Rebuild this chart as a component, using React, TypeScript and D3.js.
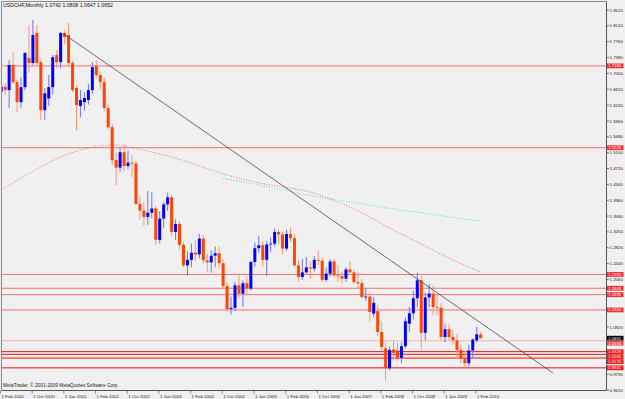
import * as d3 from 'd3';

const W = 625;
const H = 399;
const plot = { left: 1.5, top: 1.5, right: 606.5, bottom: 390.5 };

const title = 'USDCHF,Monthly  1.0742 1.0808 1.0647 1.0652';
const copyright = 'MetaTrader, \u00a9 2001-2009 MetaQuotes Software Corp.';

// monthly bars [open, high, low, close], first bar = Feb 2000
const y2000 = [
  [1.656, 1.701, 1.593, 1.668], [1.668, 1.677, 1.648, 1.66], [1.66, 1.732, 1.617, 1.72],
  [1.72, 1.751, 1.675, 1.679], [1.679, 1.685, 1.607, 1.631], [1.631, 1.691, 1.617, 1.667],
  [1.667, 1.751, 1.66, 1.749], [1.737, 1.815, 1.701, 1.725], [1.725, 1.828, 1.72, 1.792],
  [1.797, 1.816, 1.72, 1.725], [1.727, 1.735, 1.588, 1.612],
];
const y2001 = [
  [1.612, 1.665, 1.588, 1.652], [1.64, 1.696, 1.622, 1.667], [1.667, 1.744, 1.65, 1.739],
  [1.744, 1.756, 1.713, 1.727], [1.727, 1.799, 1.712, 1.797], [1.797, 1.803, 1.77, 1.787],
  [1.792, 1.821, 1.715, 1.725], [1.725, 1.73, 1.655, 1.66], [1.665, 1.672, 1.564, 1.624],
  [1.622, 1.66, 1.595, 1.636], [1.631, 1.655, 1.61, 1.641], [1.636, 1.675, 1.625, 1.66],
];
const y2002 = [
  [1.66, 1.727, 1.65, 1.715], [1.718, 1.732, 1.69, 1.696], [1.696, 1.705, 1.662, 1.679],
  [1.679, 1.69, 1.61, 1.617], [1.617, 1.625, 1.565, 1.571], [1.571, 1.58, 1.48, 1.492],
  [1.492, 1.512, 1.432, 1.474], [1.474, 1.522, 1.464, 1.511], [1.511, 1.53, 1.465, 1.478],
  [1.478, 1.515, 1.47, 1.486], [1.486, 1.504, 1.45, 1.484], [1.484, 1.49, 1.384, 1.387],
];
const y2003 = [
  [1.387, 1.405, 1.35, 1.371], [1.371, 1.392, 1.335, 1.356], [1.356, 1.418, 1.337, 1.366],
  [1.366, 1.415, 1.352, 1.376], [1.376, 1.382, 1.29, 1.301], [1.301, 1.37, 1.292, 1.352],
  [1.352, 1.392, 1.33, 1.386], [1.386, 1.414, 1.37, 1.403], [1.403, 1.41, 1.31, 1.32],
  [1.32, 1.35, 1.3, 1.339], [1.339, 1.346, 1.278, 1.289], [1.289, 1.296, 1.235, 1.24],
];
const y2004 = [
  [1.24, 1.274, 1.215, 1.253], [1.253, 1.292, 1.235, 1.27], [1.27, 1.3, 1.25, 1.266],
  [1.266, 1.315, 1.256, 1.304], [1.304, 1.312, 1.245, 1.252], [1.252, 1.268, 1.225, 1.247],
  [1.247, 1.276, 1.222, 1.263], [1.263, 1.285, 1.235, 1.269], [1.269, 1.285, 1.234, 1.245],
  [1.245, 1.255, 1.185, 1.19], [1.19, 1.2, 1.128, 1.135], [1.135, 1.165, 1.122, 1.138],
];
const y2005 = [
  [1.138, 1.2, 1.13, 1.192], [1.192, 1.22, 1.16, 1.172], [1.172, 1.204, 1.14, 1.197],
  [1.197, 1.215, 1.17, 1.184], [1.184, 1.25, 1.18, 1.248], [1.248, 1.295, 1.237, 1.281],
  [1.281, 1.31, 1.27, 1.288], [1.288, 1.297, 1.237, 1.253], [1.253, 1.298, 1.215, 1.29],
  [1.29, 1.307, 1.272, 1.292], [1.292, 1.328, 1.285, 1.32], [1.32, 1.325, 1.29, 1.314],
];
const y2006 = [
  [1.314, 1.32, 1.266, 1.28], [1.28, 1.325, 1.275, 1.315], [1.315, 1.33, 1.295, 1.305],
  [1.305, 1.315, 1.237, 1.24], [1.24, 1.252, 1.201, 1.212], [1.212, 1.255, 1.205, 1.223],
  [1.223, 1.26, 1.22, 1.235], [1.235, 1.25, 1.208, 1.232], [1.232, 1.262, 1.225, 1.253],
  [1.253, 1.275, 1.24, 1.251], [1.251, 1.258, 1.2, 1.205], [1.205, 1.235, 1.2, 1.22],
];
const y2007 = [
  [1.22, 1.254, 1.213, 1.249], [1.249, 1.255, 1.21, 1.216], [1.216, 1.24, 1.2, 1.214],
  [1.214, 1.225, 1.196, 1.208], [1.208, 1.235, 1.2, 1.23], [1.23, 1.25, 1.22, 1.223],
  [1.223, 1.23, 1.195, 1.2], [1.2, 1.225, 1.185, 1.197], [1.197, 1.208, 1.16, 1.164],
  [1.164, 1.185, 1.155, 1.165], [1.165, 1.175, 1.105, 1.128], [1.124, 1.164, 1.115, 1.15],
];
const y2008 = [
  [1.13, 1.145, 1.07, 1.08], [1.08, 1.105, 1.035, 1.044], [1.041, 1.055, 0.964, 0.993],
  [0.993, 1.045, 0.988, 1.037], [1.038, 1.06, 1.012, 1.03], [1.036, 1.055, 1.01, 1.018],
  [1.018, 1.055, 1.005, 1.046], [1.046, 1.115, 1.04, 1.106], [1.1, 1.14, 1.08, 1.125],
  [1.125, 1.178, 1.11, 1.161], [1.161, 1.222, 1.14, 1.204], [1.204, 1.215, 1.036, 1.078],
];
const y2009 = [
  [1.078, 1.175, 1.06, 1.163], [1.163, 1.195, 1.14, 1.172], [1.172, 1.192, 1.12, 1.14],
  [1.14, 1.172, 1.12, 1.138], [1.138, 1.15, 1.06, 1.068], [1.068, 1.1, 1.055, 1.087],
  [1.087, 1.098, 1.06, 1.068], [1.068, 1.085, 1.05, 1.06], [1.06, 1.075, 1.015, 1.037],
  [1.037, 1.05, 1.005, 1.017], [1.017, 1.035, 0.992, 1.005], [1.005, 1.05, 0.998, 1.036],
];
const y2010 = [
  [1.036, 1.065, 1.018, 1.062], [1.06, 1.093, 1.055, 1.0745], [1.0742, 1.0808, 1.0647, 1.0652],
];
const candles = [...y2000, ...y2001, ...y2002, ...y2003, ...y2004, ...y2005, ...y2006, ...y2007, ...y2008, ...y2009, ...y2010];

const priceTicks = [
  1.852, 1.814, 1.776, 1.738, 1.7, 1.662, 1.624, 1.586, 1.548, 1.51, 1.472, 1.434, 1.396,
  1.358, 1.32, 1.282, 1.244, 1.206, 1.168, 1.13, 1.092, 1.054, 1.016, 0.979, 0.941,
];
const dateLabels = [
  '1 Feb 2000', '1 Oct 2000', '1 Jun 2001', '1 Feb 2002', '1 Oct 2002', '1 Jun 2003',
  '1 Feb 2004', '1 Oct 2004', '1 Jun 2005', '1 Feb 2006', '1 Oct 2006', '1 Jun 2007',
  '1 Feb 2008', '1 Oct 2008', '1 Jun 2009', '1 Feb 2010',
];
const dateStep = 8; // bars between labels

// horizontal lines drawn by the trader
const softLevels = [1.718, 1.5218, 1.218, 1.1849, 1.1695, 1.133];
const strongLevels = [1.0329, 1.0265, 1.0176, 0.9941];
const pinkLevel = 1.059;
const lastPrice = 1.0652;

// [bar index, price]
const trendLine = [[15.65, 1.7955], [139.2, 0.982]];
const maRed = [
  [0, 1.4203], [5, 1.4491], [10, 1.4755], [15, 1.4995], [20, 1.5163], [25, 1.5259],
  [29, 1.5283], [32, 1.5235], [38, 1.5115], [43, 1.4995], [48, 1.4851], [53, 1.4683],
  [58, 1.4539], [63, 1.4419], [68, 1.4323], [73, 1.4251], [78, 1.4155], [83, 1.3988],
  [88, 1.3796], [93, 1.3556], [98, 1.3292], [103, 1.3052], [108, 1.2813], [113, 1.2573],
  [118, 1.2357], [121, 1.2237],
];
const maCyan = [
  [56, 1.4479], [60, 1.4419], [65, 1.4323], [70, 1.4227], [75, 1.4131], [80, 1.4036],
  [85, 1.3964], [90, 1.3892], [95, 1.3808], [100, 1.3736], [105, 1.3676], [110, 1.3604],
  [115, 1.3532], [121, 1.346],
];

const BULL = '#0000ff';
const BEAR = '#ff4500';
const font = "'Liberation Sans', Arial, sans-serif";
const labelFont = 4.2;
const labelGap = 5.0;

export default function App() {
  const x = d3.scaleLinear().domain([0, 121]).range([1.2, 480.7]);
  const y = d3.scaleLinear().domain([0.941, 1.852]).range([390, 10]);
  const path = d3
    .line<number[]>()
    .x((d) => x(d[0]))
    .y((d) => y(d[1]))
    .curve(d3.curveMonotoneX);
  const bodyW = 3;

  // price-axis flags for the levels; pushed apart a little so they do not overlap
  const flags = [
    ...softLevels.map((v) => ({ v, fill: '#f23030' })),
    { v: pinkLevel, fill: '#f04848' },
    ...strongLevels.map((v) => ({ v, fill: '#f01c1c' })),
    { v: lastPrice, fill: '#000' },
  ]
    .map((f) => ({ ...f, pos: y(f.v) }))
    .sort((a, b) => a.pos - b.pos);
  for (let k = 1; k < flags.length; k++) {
    if (flags[k].pos - flags[k - 1].pos < labelGap) flags[k].pos = flags[k - 1].pos + labelGap;
  }
  // grid labels that sit under a flag are hidden, as on the terminal
  const visibleTicks = priceTicks.filter((v) => flags.every((f) => Math.abs(f.pos - y(v)) > 4.6));

  return (
    <svg
      width={W}
      height={H}
      style={{ position: 'absolute', left: 0, top: 0 }}
      fontFamily={font}
    >
      <rect width={W} height={H} fill="#f0f0f0" />
      <defs>
        <clipPath id="plotClip">
          <rect x={plot.left} y={plot.top} width={plot.right - plot.left} height={plot.bottom - plot.top} />
        </clipPath>
      </defs>
      <g clipPath="url(#plotClip)">
        {softLevels.map((v) => (
          <line key={v} x1={plot.left} x2={plot.right} y1={y(v)} y2={y(v)} stroke="#f07070" strokeWidth={1} />
        ))}
        <line x1={plot.left} x2={plot.right} y1={y(pinkLevel)} y2={y(pinkLevel)} stroke="#f2b4b4" strokeWidth={1} />
        {strongLevels.map((v) => (
          <line key={v} x1={plot.left} x2={plot.right} y1={y(v)} y2={y(v)} stroke="#ee1010" strokeWidth={1} />
        ))}
        <path d={path(maRed) ?? ''} fill="none" stroke="#f05050" strokeWidth={0.8} strokeDasharray="1,1.6" />
        <path d={path(maCyan) ?? ''} fill="none" stroke="#30d4dc" strokeWidth={0.8} strokeDasharray="1,1.6" />
        {candles.map((c, i) => {
          const [o, h, l, cl] = c;
          const up = cl >= o;
          const cx = x(i);
          const top = y(Math.max(o, cl));
          const bh = Math.max(0.8, y(Math.min(o, cl)) - top);
          return (
            <g key={i}>
              <line x1={cx} x2={cx} y1={y(h)} y2={y(l)} stroke={up ? '#7070ff' : '#ff9470'} strokeWidth={1} />
              <rect x={cx - bodyW / 2} y={top} width={bodyW} height={bh} fill={up ? BULL : BEAR} />
            </g>
          );
        })}
        <line
          x1={x(trendLine[0][0])}
          y1={y(trendLine[0][1])}
          x2={x(trendLine[1][0])}
          y2={y(trendLine[1][1])}
          stroke="#333"
          strokeWidth={0.7}
        />
      </g>

      {/* frame and price axis */}
      <line x1={plot.left} x2={plot.right} y1={plot.top} y2={plot.top} stroke="#8a8a8a" />
      <line x1={plot.left} x2={plot.left} y1={plot.top} y2={plot.bottom} stroke="#8a8a8a" />
      <line x1={plot.right} x2={plot.right} y1={plot.top} y2={plot.bottom} stroke="#555" />
      <line x1={plot.left} x2={plot.right} y1={plot.bottom} y2={plot.bottom} stroke="#555" />
      {priceTicks.map((v) => (
        <line key={v} x1={plot.right} x2={plot.right + 2.5} y1={y(v)} y2={y(v)} stroke="#555" strokeWidth={0.8} />
      ))}
      {visibleTicks.map((v) => (
        <text key={v} x={609.5} y={y(v)} dy="0.36em" fontSize={4.4} fill="#222">
          {v.toFixed(4)}
        </text>
      ))}
      {flags.map((f) => (
        <g key={f.v}>
          <rect x={607} y={f.pos - labelGap / 2 + 0.1} width={16.5} height={labelGap - 0.2} fill={f.fill} />
          <text x={608.3} y={f.pos} dy="0.36em" fontSize={labelFont} fill="#fff">
            {f.v.toFixed(4)}
          </text>
        </g>
      ))}

      {/* time axis */}
      {dateLabels.map((d, k) => {
        const px = x(k * dateStep);
        return (
          <g key={d}>
            <line x1={px - 0.8} x2={px - 0.8} y1={plot.bottom} y2={plot.bottom + 3} stroke="#555" strokeWidth={0.7} />
            <text x={px + 0.2} y={397.5} fontSize={4.4} fill="#222">
              {d}
            </text>
          </g>
        );
      })}

      <text x={3} y={6.8} fontSize={5.2} fill="#111">
        {title}
      </text>
      <text x={3} y={387.3} fontSize={4.8} fill="#222">
        {copyright}
      </text>
    </svg>
  );
}
